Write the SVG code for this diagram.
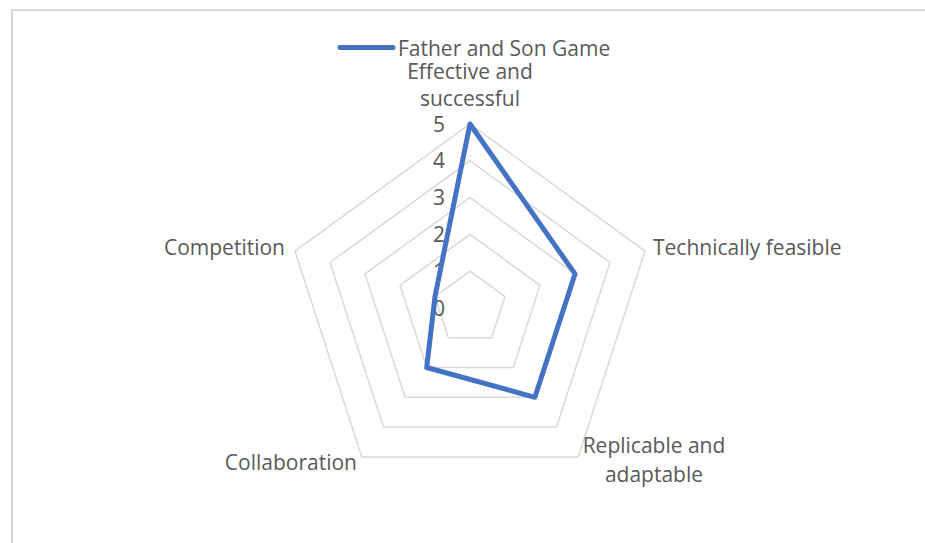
<svg xmlns="http://www.w3.org/2000/svg" width="925" height="543" viewBox="0 0 925 543">
  <style>
    .grid { fill: none; stroke: #d9d9d9; stroke-width: 1.5; }
    .frame { fill: none; stroke: #d9d9d9; stroke-width: 2; }
    .series { fill: none; stroke: #4472c4; stroke-width: 5; stroke-linejoin: round; stroke-linecap: round; }
    .t { font-family: "Open Sans", "Liberation Sans", sans-serif; font-size: 21px; fill: #595959; }
    .c { text-anchor: middle; }
    .e { text-anchor: end; }
  </style>
  <rect x="0" y="0" width="925" height="543" fill="#ffffff"/>
  <path class="frame" d="M12,543 V10 H925"/>

  <g id="grid">
    <polygon class="grid" points="470,271.2 505,296.6 491.6,337.8 448.4,337.8 435,296.6"/>
    <polygon class="grid" points="470,234.4 540,285.3 513.3,367.5 426.7,367.5 400,285.3"/>
    <polygon class="grid" points="470,197.6 575,273.9 534.9,397.3 405.1,397.3 365,273.9"/>
    <polygon class="grid" points="470,160.8 610,262.5 556.5,427.1 383.5,427.1 330,262.5"/>
    <polygon class="grid" points="470,124 645,251.1 578.2,456.9 361.8,456.9 295,251.1"/>
  </g>

  <g id="axis-values">
    <text class="t c" x="439" y="131.5">5</text>
    <text class="t c" x="439" y="168.3">4</text>
    <text class="t c" x="439" y="205.1">3</text>
    <text class="t c" x="439" y="241.9">2</text>
    <text class="t c" x="439" y="278.7">1</text>
    <text class="t c" x="439" y="315.5">0</text>
  </g>

  <g id="connectors">
    <polygon id="series-father-son" class="series" points="470,124 575,273.9 534.9,397.3 426.7,367.5 435,296.6"/>
  </g>

  <g id="node-effective">
    <text class="t c" x="470" y="78.5">Effective and</text>
    <text class="t c" x="470" y="106">successful</text>
  </g>
  <g id="node-technical">
    <text class="t" x="653" y="255">Technically feasible</text>
  </g>
  <g id="node-replicable">
    <text class="t c" x="654" y="453">Replicable and</text>
    <text class="t c" x="654" y="482">adaptable</text>
  </g>
  <g id="node-collaboration">
    <text class="t e" x="357" y="470">Collaboration</text>
  </g>
  <g id="node-competition">
    <text class="t e" x="285" y="255">Competition</text>
  </g>

  <g id="legend">
    <line class="series" x1="340" y1="47.5" x2="393" y2="47.5"/>
    <text class="t" x="398" y="55.5">Father and Son Game</text>
  </g>
</svg>
